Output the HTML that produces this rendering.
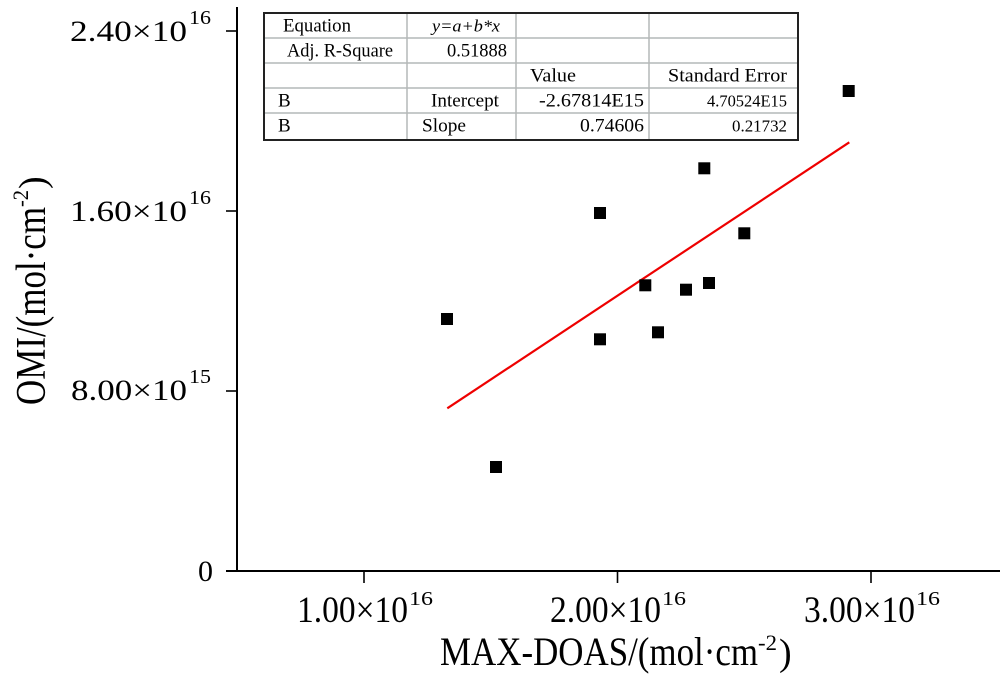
<!DOCTYPE html>
<html><head><meta charset="utf-8"><style>
html,body{margin:0;padding:0;background:#fff;}
svg{display:block;}
text{font-family:"Liberation Serif","Times New Roman",serif;fill:#000;}
</style></head><body>
<svg width="1000" height="685" viewBox="0 0 1000 685" xmlns="http://www.w3.org/2000/svg">
<rect width="1000" height="685" fill="#fff"/>
<!-- axes -->
<line x1="237" y1="7" x2="237" y2="572" stroke="#000" stroke-width="2"/>
<line x1="226" y1="571" x2="1000" y2="571" stroke="#000" stroke-width="2"/>
<!-- ticks -->
<g stroke="#000" stroke-width="1.6">
<line x1="226" y1="31" x2="237" y2="31"/>
<line x1="226" y1="211" x2="237" y2="211"/>
<line x1="226" y1="391" x2="237" y2="391"/>
<line x1="364" y1="571" x2="364" y2="583"/>
<line x1="617.5" y1="571" x2="617.5" y2="583"/>
<line x1="871" y1="571" x2="871" y2="583"/>
</g>
<!-- y tick labels -->
<text x="70" y="41" font-size="30" textLength="117" lengthAdjust="spacingAndGlyphs">2.40×10</text>
<text x="189" y="24" font-size="20" textLength="22" lengthAdjust="spacingAndGlyphs">16</text>
<text x="70" y="221" font-size="30" textLength="117" lengthAdjust="spacingAndGlyphs">1.60×10</text>
<text x="189" y="204" font-size="20" textLength="22" lengthAdjust="spacingAndGlyphs">16</text>
<text x="71" y="400" font-size="30" textLength="116" lengthAdjust="spacingAndGlyphs">8.00×10</text>
<text x="189" y="383" font-size="20" textLength="22" lengthAdjust="spacingAndGlyphs">15</text>
<text x="198" y="581" font-size="30" textLength="15" lengthAdjust="spacingAndGlyphs">0</text>
<!-- x tick labels -->
<text x="297" y="622" font-size="37" textLength="111" lengthAdjust="spacingAndGlyphs">1.00×10</text>
<text x="409" y="605" font-size="20" textLength="24" lengthAdjust="spacingAndGlyphs">16</text>
<text x="550" y="622" font-size="37" textLength="111" lengthAdjust="spacingAndGlyphs">2.00×10</text>
<text x="662" y="605" font-size="20" textLength="24" lengthAdjust="spacingAndGlyphs">16</text>
<text x="804" y="622" font-size="37" textLength="111" lengthAdjust="spacingAndGlyphs">3.00×10</text>
<text x="916" y="605" font-size="20" textLength="24" lengthAdjust="spacingAndGlyphs">16</text>
<!-- x title -->
<text x="440" y="665" font-size="40" textLength="318" lengthAdjust="spacingAndGlyphs">MAX-DOAS/(mol·cm</text>
<text x="758" y="650" font-size="22" textLength="19" lengthAdjust="spacingAndGlyphs">-2</text>
<text x="779" y="665" font-size="38">)</text>
<!-- y title -->
<g transform="translate(45,405) rotate(-90)">
<text x="0" y="0" font-size="42" textLength="198" lengthAdjust="spacingAndGlyphs">OMI/(mol·cm</text>
<text x="198" y="-17" font-size="22" textLength="17" lengthAdjust="spacingAndGlyphs">-2</text>
<text x="216" y="0" font-size="38">)</text>
</g>
<!-- fit line -->
<line x1="447.3" y1="408.3" x2="849.3" y2="142.3" stroke="#ee0000" stroke-width="2.2"/>
<!-- points -->
<g fill="#000">
<rect x="441" y="313" width="12" height="12"/>
<rect x="594" y="207" width="12" height="12"/>
<rect x="594" y="333.3" width="12" height="12"/>
<rect x="490" y="461" width="12" height="12"/>
<rect x="639.3" y="279.3" width="12" height="12"/>
<rect x="652" y="326.3" width="12" height="12"/>
<rect x="680" y="283.7" width="12" height="12"/>
<rect x="703" y="277" width="12" height="12"/>
<rect x="738.3" y="227.3" width="12" height="12"/>
<rect x="698.3" y="162.3" width="12" height="12"/>
<rect x="842.7" y="85" width="12" height="12"/>
</g>
<!-- table -->
<rect x="264" y="13" width="534" height="127" fill="#fff"/>
<g stroke="#b4b8b8" stroke-width="1.5">
<line x1="264" y1="38" x2="798" y2="38"/>
<line x1="264" y1="63" x2="798" y2="63"/>
<line x1="264" y1="88" x2="798" y2="88"/>
<line x1="264" y1="113" x2="798" y2="113"/>
<line x1="407" y1="13" x2="407" y2="140"/>
<line x1="516" y1="13" x2="516" y2="140"/>
<line x1="649" y1="13" x2="649" y2="140"/>
</g>
<rect x="264" y="13" width="534" height="127" fill="none" stroke="#222" stroke-width="2"/>
<g font-size="19">
<text x="283" y="31.5" textLength="68" lengthAdjust="spacingAndGlyphs">Equation</text>
<text x="432" y="31.5" font-size="17" font-style="italic" textLength="68" lengthAdjust="spacingAndGlyphs">y=a+b*x</text>
<text x="287" y="56.5" textLength="106" lengthAdjust="spacingAndGlyphs">Adj. R-Square</text>
<text x="447" y="56.5" textLength="60" lengthAdjust="spacingAndGlyphs">0.51888</text>
<text x="530" y="81.5" textLength="46" lengthAdjust="spacingAndGlyphs">Value</text>
<text x="668" y="81.5" textLength="119" lengthAdjust="spacingAndGlyphs">Standard Error</text>
<text x="278" y="106.5">B</text>
<text x="431" y="106.5" textLength="68" lengthAdjust="spacingAndGlyphs">Intercept</text>
<text x="539" y="106.5" textLength="105" lengthAdjust="spacingAndGlyphs">-2.67814E15</text>
<text x="707" y="106.5" font-size="16.5" textLength="80" lengthAdjust="spacingAndGlyphs">4.70524E15</text>
<text x="278" y="131.5">B</text>
<text x="422" y="131.5" textLength="44" lengthAdjust="spacingAndGlyphs">Slope</text>
<text x="580" y="131.5" textLength="64" lengthAdjust="spacingAndGlyphs">0.74606</text>
<text x="732" y="131.5" font-size="16.5" textLength="55" lengthAdjust="spacingAndGlyphs">0.21732</text>
</g>
</svg>
</body></html>
